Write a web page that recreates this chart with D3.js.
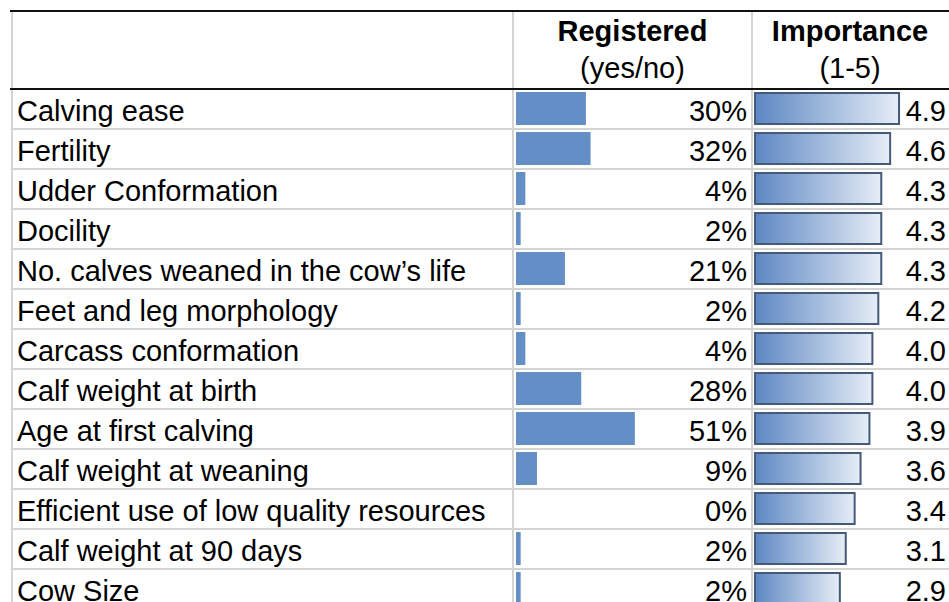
<!DOCTYPE html>
<html>
<head>
<meta charset="utf-8">
<script src="https://cdn.jsdelivr.net/npm/d3@7"></script>
<style>
  body { margin: 0; background: #fff; }
  svg { display: block; font-family: "Liberation Sans", Arial, sans-serif; }
</style>
</head>
<body>
<svg width="949" height="602"></svg>
<script>
// data
const traits = [
  "Calving ease", "Fertility", "Udder Conformation", "Docility",
  "No. calves weaned in the cow\u2019s life", "Feet and leg morphology",
  "Carcass conformation", "Calf weight at birth", "Age at first calving",
  "Calf weight at weaning", "Efficient use of low quality resources",
  "Calf weight at 90 days", "Cow Size"
];
const registered = [0.30, 0.32, 0.04, 0.02, 0.21, 0.02, 0.04, 0.28, 0.51, 0.09, 0.00, 0.02, 0.02];
const importance = [4.9, 4.6, 4.3, 4.3, 4.3, 4.2, 4.0, 4.0, 3.9, 3.6, 3.4, 3.1, 2.9];
const headers = [["Registered", "(yes/no)"], ["Importance", "(1-5)"]];

let svg = d3.select('svg'),
  width = 949, height = 602;

const fs = 29;
const colL = 12, colA = 513, colB = 752, colR = 960;
const headTop = 11, headBot = 89;

let y = d3.scaleBand().domain(traits).range([headBot, headBot + traits.length * 40]);
let xReg = d3.scaleLinear().domain([0, 1]).range([516, 516 + 233]);
let xImp = d3.scaleLinear().domain([0, 5]).range([755, 755 + 5 * 29.6]);

// gradient for importance bars
let grad = svg.append('defs').append('linearGradient').attr('id', 'impGrad');
grad.append('stop').attr('offset', '0%').attr('stop-color', '#5d87c3');
grad.append('stop').attr('offset', '100%').attr('stop-color', '#e6edf6');

// grid lines
let grid = svg.append('g').attr('stroke', '#d4d4d4').attr('stroke-width', 2);
grid.selectAll('line.h')
  .data(traits)
  .enter().append('line')
  .attr('x1', colL).attr('x2', colR)
  .attr('y1', (d, i) => headBot + (i + 1) * 40)
  .attr('y2', (d, i) => headBot + (i + 1) * 40);
grid.selectAll('line.v')
  .data([colL, colA, colB])
  .enter().append('line')
  .attr('x1', d => d).attr('x2', d => d)
  .attr('y1', headTop).attr('y2', height);

// header borders
svg.append('line').attr('x1', 10).attr('x2', width).attr('y1', headTop).attr('y2', headTop)
  .attr('stroke', '#111').attr('stroke-width', 2);
svg.append('line').attr('x1', 10).attr('x2', width).attr('y1', headBot).attr('y2', headBot)
  .attr('stroke', '#111').attr('stroke-width', 2);

// header text
let hx = [(colA + colB) / 2, 850];
headers.forEach((h, i) => {
  svg.append('text')
    .attr('x', hx[i]).attr('y', 41)
    .attr('text-anchor', 'middle').attr('font-size', fs).attr('font-weight', 'bold')
    .text(h[0]);
  svg.append('text')
    .attr('x', hx[i]).attr('y', 78)
    .attr('text-anchor', 'middle').attr('font-size', fs)
    .text(h[1]);
});

// rows
let rows = svg.append('g').selectAll('g')
  .data(traits.map((t, i) => ({ t: t, r: registered[i], imp: importance[i] })))
  .enter().append('g');

rows.append('text')
  .attr('x', 17).attr('y', d => y(d.t) + 31.5)
  .attr('font-size', fs)
  .text(d => d.t);

rows.append('rect')
  .attr('x', xReg(0))
  .attr('y', d => y(d.t) + 3)
  .attr('width', d => xReg(d.r) - xReg(0))
  .attr('height', 33)
  .attr('fill', '#638ec6');

rows.append('text')
  .attr('x', 747).attr('y', d => y(d.t) + 31.5)
  .attr('text-anchor', 'end').attr('font-size', fs)
  .text(d => Math.round(d.r * 100) + '%');

rows.append('rect')
  .attr('x', xImp(0))
  .attr('y', d => y(d.t) + 4)
  .attr('width', d => xImp(d.imp) - xImp(0) - 1)
  .attr('height', 31)
  .attr('fill', 'url(#impGrad)')
  .attr('stroke', '#445a78')
  .attr('stroke-width', 2);

rows.append('text')
  .attr('x', 946).attr('y', d => y(d.t) + 31.5)
  .attr('text-anchor', 'end').attr('font-size', fs)
  .text(d => d.imp.toFixed(1));
</script>
</body>
</html>
